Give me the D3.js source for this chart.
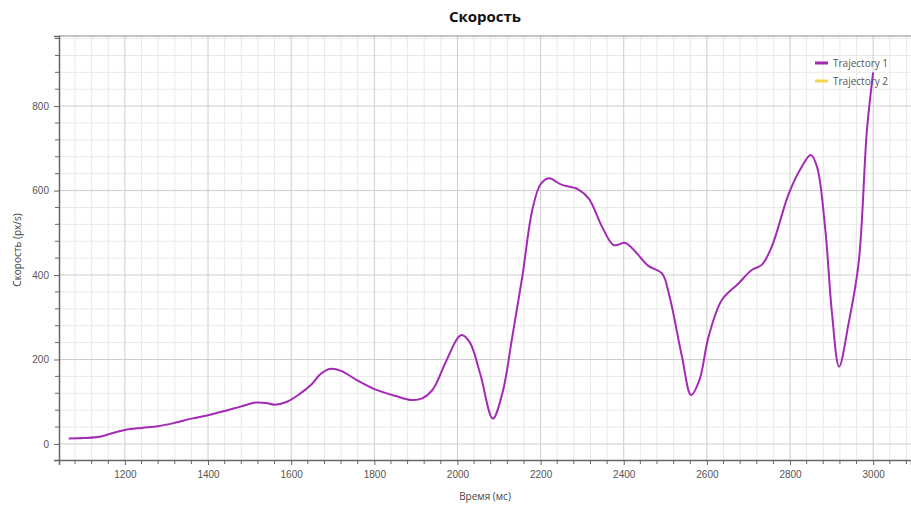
<!DOCTYPE html>
<html>
<head>
<meta charset="utf-8">
<script src="https://cdn.jsdelivr.net/npm/d3@7"></script>
<style>
  body { margin: 0; background: #fff; }
  svg { display: block; font-family: "Open Sans", "Noto Sans", sans-serif; }
</style>
</head>
<body>
<svg id="chart" width="911" height="508"></svg>
<script>
// время (мс) и скорость (px/s)
const times = [1065, 1100, 1140, 1165, 1200, 1240, 1280, 1320, 1360, 1400, 1440, 1480, 1515, 1540, 1560,
  1590, 1620, 1650, 1670, 1695, 1720, 1760, 1800, 1850, 1890, 1915, 1940, 1970, 2000, 2010, 2030, 2055,
  2085, 2108, 2132, 2156, 2180, 2200, 2220, 2250, 2290, 2316, 2348, 2376, 2404, 2428, 2460, 2492, 2510,
  2540, 2562, 2582, 2604, 2636, 2676, 2708, 2732, 2756, 2797, 2828, 2850, 2865, 2885, 2901, 2918, 2941,
  2965, 2985, 3000];
const speed1 = [13, 14, 17, 24, 33, 38, 42, 50, 60, 68, 78, 89, 98, 97, 93,
  100, 118, 142, 165, 178, 173, 150, 130, 114, 104, 108, 128, 190, 250, 258, 240, 165,
  60, 120, 254, 396, 554, 615, 629, 614, 603, 581, 514, 471, 476, 455, 421, 404, 350,
  207, 116, 151, 254, 341, 380, 412, 424, 467, 593, 656, 684, 656, 506, 309, 183, 286,
  428, 743, 880];
const speed2 = []; // вторая траектория пустая

const seriesNames = ["Trajectory 1", "Trajectory 2"];
const seriesColors = ["#a42ab6", "#f2d64b"];

const xMajor = [1200, 1400, 1600, 1800, 2000, 2200, 2400, 2600, 2800, 3000];
const yMajor = [0, 200, 400, 600, 800];

const svg = d3.select("#chart");
const m = { left: 59, right: 911, top: 36, bottom: 460 };

const x = d3.scaleLinear().domain([1041.5, 3091]).range([m.left, m.right]);
const y = d3.scaleLinear().domain([-38, 966]).range([m.bottom, m.top]);

const xMinor = d3.range(1080, 3091, 40).filter(t => t % 200 !== 0);
const yMinor = d3.range(40, 966, 40).filter(v => v % 200 !== 0);

// сетка
const grid = svg.append("g");
grid.selectAll(".xm").data(xMinor).join("line").attr("class", "xm")
  .attr("x1", d => x(d)).attr("x2", d => x(d)).attr("y1", m.top).attr("y2", m.bottom)
  .attr("stroke", "#e9e9e9").attr("stroke-width", 1);
grid.selectAll(".ym").data(yMinor).join("line").attr("class", "ym")
  .attr("x1", m.left).attr("x2", m.right).attr("y1", d => y(d)).attr("y2", d => y(d))
  .attr("stroke", "#e9e9e9").attr("stroke-width", 1);
grid.selectAll(".xM").data(xMajor).join("line").attr("class", "xM")
  .attr("x1", d => x(d)).attr("x2", d => x(d)).attr("y1", m.top).attr("y2", m.bottom)
  .attr("stroke", "#cdcdcd").attr("stroke-width", 1);
grid.selectAll(".yM").data(yMajor).join("line").attr("class", "yM")
  .attr("x1", m.left).attr("x2", m.right).attr("y1", d => y(d)).attr("y2", d => y(d))
  .attr("stroke", "#cdcdcd").attr("stroke-width", 1);

// рамка сверху
svg.append("line").attr("x1", m.left).attr("x2", m.right).attr("y1", m.top).attr("y2", m.top)
  .attr("stroke", "#888").attr("stroke-width", 1.2);

// оси
const xAxis = d3.axisBottom(x).tickValues(xMajor).tickSize(5).tickPadding(6).tickFormat(d3.format("d"));
const yAxis = d3.axisLeft(y).tickValues(yMajor).tickSize(5).tickPadding(5).tickFormat(d3.format("d"));

const gx = svg.append("g").attr("transform", `translate(0,${m.bottom})`).call(xAxis);
const gy = svg.append("g").attr("transform", `translate(${m.left},0)`).call(yAxis);

gx.selectAll(".x-minor").data(xMinor).join("line").attr("class", "x-minor")
  .attr("x1", d => x(d)).attr("x2", d => x(d)).attr("y1", 0).attr("y2", 4);
gy.selectAll(".y-minor").data(yMinor).join("line").attr("class", "y-minor")
  .attr("y1", d => y(d)).attr("y2", d => y(d)).attr("x1", 0).attr("x2", -4);

[gx, gy].forEach(g => {
  g.select(".domain").attr("stroke", "#666").attr("stroke-width", 1.5);
  g.selectAll("line").attr("stroke", "#666");
  g.selectAll("text").attr("fill", "#555").style("font-size", "10px");
});

// линия
const pts = times.map((t, i) => ({ t: t, v: speed1[i] }));
const line = d3.line().x(d => x(d.t)).y(d => y(d.v)).curve(d3.curveCatmullRom.alpha(0.5));

svg.append("path").datum(pts)
  .attr("d", line)
  .attr("fill", "none")
  .attr("stroke", seriesColors[0])
  .attr("stroke-width", 2);

svg.append("path").datum(speed2)
  .attr("d", line)
  .attr("fill", "none")
  .attr("stroke", seriesColors[1])
  .attr("stroke-width", 2);

// подписи
svg.append("text").attr("x", 485).attr("y", 22).attr("text-anchor", "middle")
  .style("font-size", "15px").style("font-weight", "bold").attr("fill", "#111")
  .text("Скорость");

svg.append("text").attr("x", (m.left + m.right) / 2).attr("y", 500).attr("text-anchor", "middle")
  .style("font-size", "10px").attr("fill", "#444")
  .text("Время (мс)");

svg.append("text").attr("transform", "translate(21,250) rotate(-90)")
  .attr("text-anchor", "middle")
  .style("font-size", "10px").attr("fill", "#444")
  .text("Скорость (px/s)");

// легенда
const legend = svg.append("g").attr("transform", "translate(815,63)");
seriesNames.forEach((name, i) => {
  const row = legend.append("g").attr("transform", `translate(0,${i * 18})`);
  row.append("line").attr("x1", 0).attr("x2", 13).attr("y1", 0).attr("y2", 0)
    .attr("stroke", seriesColors[i]).attr("stroke-width", 3);
  row.append("text").attr("x", 18).attr("y", 3.5)
    .style("font-size", "10px").attr("fill", "#555").text(name);
});
</script>
</body>
</html>
